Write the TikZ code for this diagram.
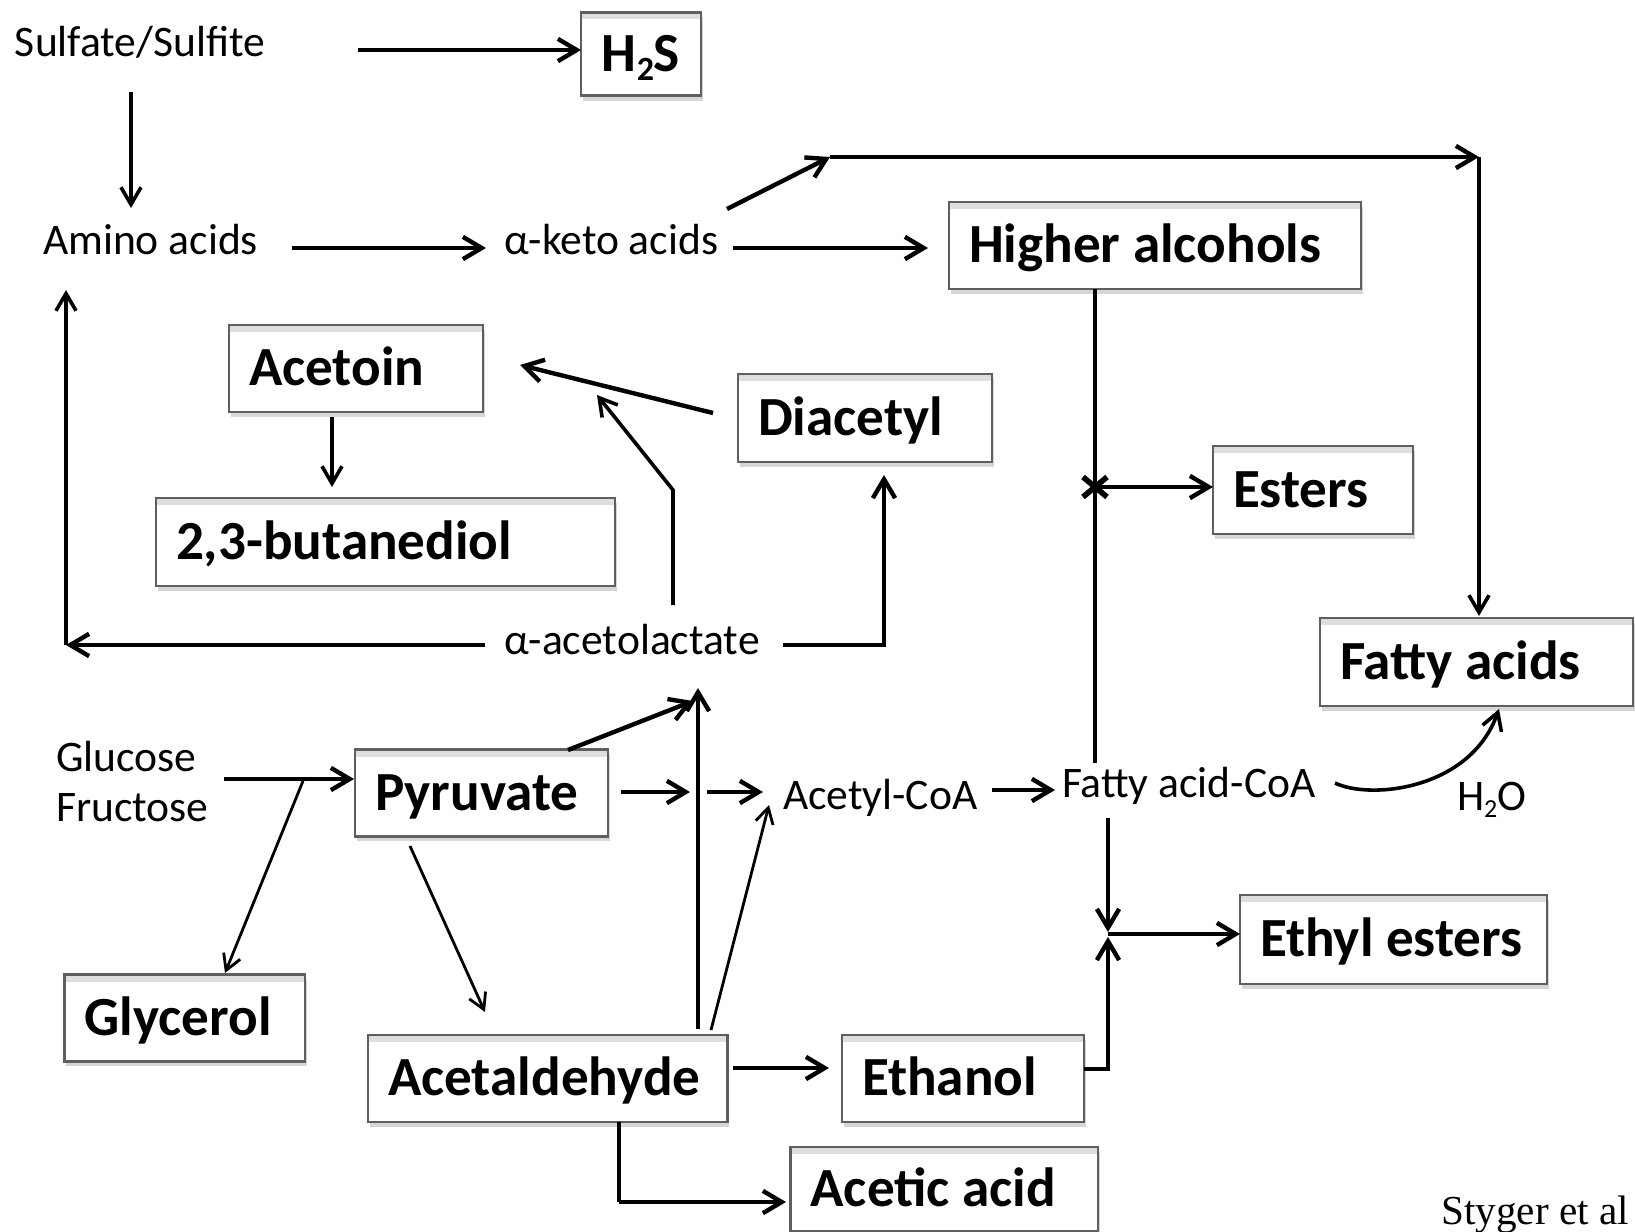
\documentclass[tikz,border=0pt]{standalone}
\usepackage{fontspec}
\setmainfont{Carlito}
\newfontfamily\serifft{Liberation Serif}
\usetikzlibrary{arrows.meta,shadows,calc}
\definecolor{boxline}{RGB}{95,95,95}
\newcommand{\bigf}{\fontsize{27.6pt}{32pt}\selectfont\bfseries}
\newcommand{\smf}{\fontsize{21.8pt}{25pt}\selectfont}
\newcommand{\bx}[2]{\makebox[#1pt][l]{#2}}
\begin{document}
\begin{tikzpicture}[x=0.5pt,y=-0.5pt,
  >={Straight Barb[length=5pt 2,width=5pt 2.8]},
  thk/.style={line width=2.2pt},
  thn/.style={line width=1.4pt},
  med/.style={line width=1.8pt},
  lbl/.style={font=\smf, anchor=west, inner sep=0pt, outer sep=0pt, text height=13.8pt, text depth=0pt},
  box/.style={draw=boxline, line width=1.4pt, fill=white, anchor=west, outer sep=0pt,
    inner xsep=10pt, inner ysep=0pt, font=\bigf, text height=17.4pt, text depth=0pt,
    drop shadow={shadow xshift=0.8pt, shadow yshift=-2.6pt, fill=black!16, opacity=1},
    path picture={\fill[black!13] ([yshift=-0.7pt]path picture bounding box.north west) rectangle ([yshift=-3.6pt]path picture bounding box.north east);}},
]
\useasboundingbox (0,0) rectangle (1635,1232);

% ---------- boxes ----------
\node[box, minimum width=60pt, minimum height=41.75pt] (h2s) at (581,54) {H\raisebox{-0.35ex}{\fontsize{17pt}{17pt}\selectfont 2}S};
\node[box, minimum height=43.5pt] (higher) at (949,245.5) {\bx{186}{Higher alcohols}};
\node[box, minimum height=43.5pt] (acetoin) at (229,368.5) {\bx{107}{Acetoin}};
\node[box, minimum height=44pt] (butane) at (156,542) {\bx{209.5}{2,3-butanediol}};
\node[box, minimum height=44pt] (diacetyl) at (738,418) {\bx{107}{Diacetyl}};
\node[box, minimum height=44pt] (esters) at (1213,490) {\bx{80}{Esters}};
\node[box, minimum height=44pt] (fatty) at (1320,662) {\bx{136.5}{Fatty acids}};
\node[box, minimum height=43.25pt] (pyr) at (355,793) {\bx{106.5}{Pyruvate}};
\node[box, minimum height=43.25pt] (glyc) at (64.5,1018) {\bx{100.25}{Glycerol}};
\node[box, minimum height=43.5pt] (acald) at (368,1078.5) {\bx{159.75}{Acetaldehyde}};
\node[box, minimum height=43.5pt] (ethanol) at (842,1078.5) {\bx{101}{Ethanol}};
\node[box, minimum height=42pt] (acetic) at (790.5,1189) {\bx{133.75}{Acetic acid}};
\node[box, minimum height=44.5pt] (ethyl) at (1240,939.5) {\bx{133.5}{Ethyl esters}};

% ---------- plain labels ----------
\node[lbl] (sulf) at (15,43) {Sulfate/Sulfite};
\node[lbl] (amino) at (43,241) {Amino acids};
\node[lbl] (keto) at (504,241) {α-keto acids};
\node[lbl] (acetolac) at (504,641) {α-acetolactate};
\node[lbl] (gluc) at (56,758) {Glucose};
\node[lbl] (fruc) at (56,807.5) {Fructose};
\node[lbl] (acoa) at (783,795.5) {Acetyl-CoA};
\node[lbl] (facoa) at (1062,784) {Fatty acid-CoA};
\node[lbl] (water) at (1457,796.5) {H\raisebox{-0.35ex}{\fontsize{13pt}{13pt}\selectfont 2}O};
\node[font=\serifft\fontsize{20.6pt}{24pt}\selectfont, anchor=base west, inner sep=0pt] (styger) at (1441,1224) {Styger et al};

% ---------- connector points ----------
\coordinate (s0) at (358,50);
\coordinate (s1) at (131,92);
\coordinate (s2) at (131,208);
\coordinate (a0) at (292,248);
\coordinate (a1) at (486,248);
\coordinate (k0) at (733,248);
\coordinate (k1) at (928,248);
\coordinate (k2) at (727,209);
\coordinate (t0) at (830,157);
\coordinate (t1) at (1479,157);
\coordinate (t2) at (1479,616);
\coordinate (hv0) at (1095,289);
\coordinate (hv1) at (1095,763);
\coordinate (xm) at (1095,487);
\coordinate (al0) at (485,645);
\coordinate (al1) at (66,645);
\coordinate (al2) at (66,290);
\coordinate (ar0) at (783,645);
\coordinate (ar1) at (884,645);
\coordinate (ar2) at (884,475);
\coordinate (au0) at (673,605);
\coordinate (au1) at (673,490);
\coordinate (au2) at (597,395);
\coordinate (d0) at (713,413);
\coordinate (d1) at (520,365);
\coordinate (ac0) at (332,417);
\coordinate (ac1) at (332,487);
\coordinate (g0) at (224,779);
\coordinate (g1) at (354,779);
\coordinate (g2) at (303,781);
\coordinate (g3) at (225,973);
\coordinate (p0) at (568,750);
\coordinate (p1) at (693,701);
\coordinate (v0) at (698,1029);
\coordinate (v1) at (698,688);
\coordinate (p2) at (621,792);
\coordinate (p3) at (690,792);
\coordinate (p4) at (707,792);
\coordinate (p5) at (763,792);
\coordinate (e0) at (711,1030);
\coordinate (e1) at (769,805);
\coordinate (p6) at (410,846);
\coordinate (p7) at (485,1012);
\coordinate (c0) at (992,790);
\coordinate (c1) at (1055,790);
\coordinate (f0) at (1108,818);
\coordinate (f1) at (1108,932);
\coordinate (f2) at (1108,934);
\coordinate (n0) at (1108,1069);
\coordinate (n1) at (1108,937);
\coordinate (w0) at (1335,783);
\coordinate (w1) at (1499,709);
\coordinate (et0) at (733,1068);
\coordinate (et1) at (829,1068);
\coordinate (aa0) at (619,1202);
\coordinate (aa1) at (786,1202);

% ---------- connectors ----------
\draw[thk,->] (s0) -- (s0 -| h2s.west);
\draw[med,->] (s1) -- (s2);
\draw[thk,->] (a0) -- (a1);
\draw[thk,->] (k0) -- (k1);
\draw[thk,->] (k2) -- (t0);
\draw[thk,->] (t0) -- (t1);
\draw[med,->] (t1) -- (t2);
\draw[med] (hv0) -- (hv1);
\draw[thk,->] (xm) -- (xm -| esters.west);
\draw[line width=2.8pt] ([shift={(-12,-10)}]xm) -- ([shift={(12,10)}]xm) ([shift={(12,-10)}]xm) -- ([shift={(-12,10)}]xm);
\draw[thk,->] (al0) -- (al1);
\draw[med,->] (al1) -- (al2);
\draw[thk,->] (ar0) -- (ar1) -- (ar2);
\draw[med,->] (au0) -- (au1) -- (au2);
\draw[thk,->] (d0) -- (d1);
\draw[med,->] (ac0) -- (ac1);
\draw[thk,->] (g0) -- (g1);
\draw[thn,->] (g2) -- (g3);
\draw[thk,->] (p0) -- (p1);
\draw[thk,->] (v0) -- (v1);
\draw[thk,->] (p2) -- (p3);
\draw[thk,->] (p4) -- (p5);
\draw[thn,->] (e0) -- (e1);
\draw[thn,->] (p6) -- (p7);
\draw[thk,->] (c0) -- (c1);
\draw[thk,->] (f0) -- (f1);
\draw[thk,->] (f2) -- (f2 -| ethyl.west);
\draw[thk,->] (n0 -| ethanol.east) -- (n0) -- (n1);
\draw[med,->] (w0) .. controls (1370,800) and (1470,790) .. (w1);
\draw[thk,->] (et0) -- (et1);
\draw[med] (aa0 |- acald.south) -- (aa0);
\draw[thk,->] (aa0) -- (aa1);
\end{tikzpicture}
\end{document}
